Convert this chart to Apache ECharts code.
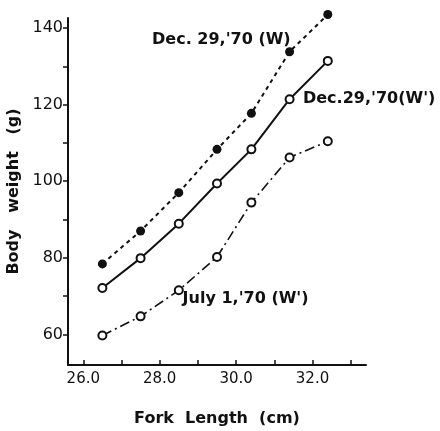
<!DOCTYPE html>
<html><head><meta charset="utf-8">
<script src="https://cdn.jsdelivr.net/npm/echarts@6/dist/echarts.min.js"></script>
<style>html,body{margin:0;padding:0;background:#fff}#c{width:440px;height:431px}</style>
</head><body><div id="c"></div>
<script>
const forkLength = [26.5, 27.5, 28.5, 29.5, 30.4, 31.4, 32.4];
const decW = [78.4, 87.0, 97.0, 108.3, 117.7, 133.8, 143.5];
const decWp = [72.1, 79.9, 88.9, 99.4, 108.3, 121.4, 131.4];
const julyWp = [59.7, 64.7, 71.5, 80.2, 94.4, 106.2, 110.4];
const xTicks = [26, 27, 28, 29, 30, 31, 32, 33];
const xLabels = [26, 28, 30, 32];
const yTicks = [60, 70, 80, 90, 100, 110, 120, 130, 140];
const yLabels = [60, 80, 100, 120, 140];
const seriesNames = ["Dec. 29,'70 (W)", "Dec.29,'70(W')", "July 1,'70 (W')"];
const labelAnchor = [[27.8, 136.9], [31.75, 121.4], [28.6, 69.2]];

const font = 'DejaVu Sans';
const ink = '#111';
const pairs = ys => forkLength.map((x, i) => [x, ys[i]]);
const note = (i) => ({
  symbol: 'circle', symbolSize: 0, silent: true,
  data: [{ coord: labelAnchor[i], value: seriesNames[i] }],
  label: { show: true, position: 'right', distance: 0, formatter: seriesNames[i],
    fontFamily: font, fontSize: 16, fontWeight: 'bold', color: ink }
});
const chart = echarts.init(document.getElementById('c'), null, { renderer: 'canvas' });
chart.setOption({
  animation: false,
  backgroundColor: '#fff',
  grid: { left: 68, top: 18, right: 74, bottom: 66, outerBoundsMode: 'none', containLabel: false },
  xAxis: {
    type: 'value', min: 25.6, max: 33.4,
    name: 'Fork  Length  (cm)', nameLocation: 'middle', nameGap: 46,
    nameTextStyle: { fontFamily: font, fontSize: 16, fontWeight: 'bold', color: ink },
    axisLine: { onZero: false, lineStyle: { color: ink, width: 2 } },
    axisTick: { inside: true, length: 5, customValues: xTicks, lineStyle: { color: ink, width: 1.5 } },
    axisLabel: { customValues: xLabels, formatter: v => v.toFixed(1), fontFamily: font, fontSize: 15, color: ink, margin: 7 },
    splitLine: { show: false }
  },
  yAxis: {
    type: 'value', min: 52, max: 142.6,
    name: 'Body   weight   (g)', nameLocation: 'middle', nameGap: 40, nameRotate: 90,
    nameTextStyle: { fontFamily: font, fontSize: 16, fontWeight: 'bold', color: ink },
    axisLine: { onZero: false, lineStyle: { color: ink, width: 2 } },
    axisTick: { inside: false, length: 5, customValues: yTicks, lineStyle: { color: ink, width: 1.5 } },
    axisLabel: { customValues: yLabels, fontFamily: font, fontSize: 16, color: ink, margin: 5 },
    splitLine: { show: false }
  },
  series: [
    { name: seriesNames[0], type: 'line', data: pairs(decW), clip: false,
      symbol: 'circle', symbolSize: 9, itemStyle: { color: ink },
      lineStyle: { color: ink, width: 2, type: [4, 4] }, markPoint: note(0) },
    { name: seriesNames[1], type: 'line', data: pairs(decWp), clip: false,
      symbol: 'emptyCircle', symbolSize: 8, itemStyle: { color: ink, borderWidth: 2 },
      lineStyle: { color: ink, width: 2 }, markPoint: note(1) },
    { name: seriesNames[2], type: 'line', data: pairs(julyWp), clip: false,
      symbol: 'emptyCircle', symbolSize: 8, itemStyle: { color: ink, borderWidth: 2 },
      lineStyle: { color: ink, width: 1.6, type: [10, 4, 2, 4] }, markPoint: note(2) }
  ]
});
</script></body></html>
